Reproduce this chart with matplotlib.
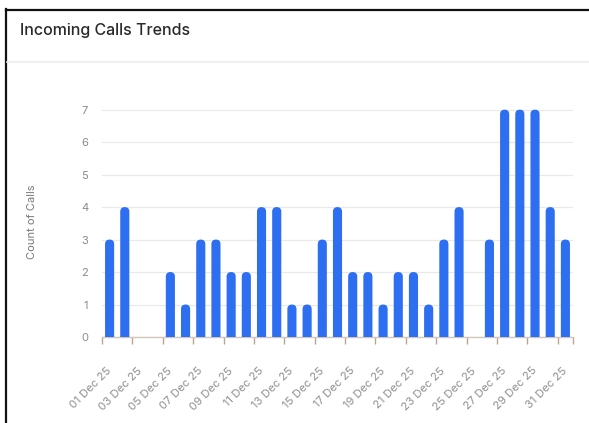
import matplotlib
matplotlib.use("Agg")
import matplotlib.pyplot as plt
from matplotlib.patches import FancyBboxPatch
from matplotlib.lines import Line2D
import numpy as np

plt.rcParams['font.family'] = ['Inter', 'DejaVu Sans']

days = [f"{d:02d} Dec 25" for d in range(1, 32)]
calls = [3, 4, 0, 0, 2, 1, 3, 3, 2, 2, 4, 4, 1, 1, 3, 4, 2, 2, 1, 2, 2, 1, 3, 4, 0, 3, 7, 7, 7, 4, 3]
yticks = [0, 1, 2, 3, 4, 5, 6, 7]
title = "Incoming Calls Trends"
ylabel = "Count of Calls"

W, H = 589, 423
fig = plt.figure(figsize=(W / 100, H / 100), dpi=100)
fig.patch.set_facecolor('white')

def fx(px):
    return px / W

def fy(py):
    return 1 - py / H

# card border (left + top) and header separator
fig.add_artist(Line2D([fx(6), fx(6)], [fy(9), 0], color='#111111', lw=1.6))
fig.add_artist(Line2D([fx(6), 1], [fy(10), fy(10)], color='#111111', lw=1.6))
fig.add_artist(Line2D([fx(7), 1], [fy(62), fy(62)], color='#eeeeee', lw=1.2))
fig.text(fx(20), fy(31), title, fontsize=11.5, color='#2a2a2a', va='center', ha='left',
         fontweight='medium')

left, right, top, bottom = 102, 573, 109, 337
ax = fig.add_axes([fx(left), fy(bottom), fx(right - left), (bottom - top) / H])
x = np.arange(len(days))
ymax = 7.02
ax.set_xlim(-0.5, len(days) - 0.5)
ax.set_ylim(0, ymax)

bars = ax.bar(x, calls, width=0.6, color='#2e6ff2')
px_x = (right - left) / len(days)
px_y = (bottom - top) / ymax
rad_x = 0.3
aspect = (rad_x * px_x / px_y) / rad_x
for b in bars:
    h = b.get_height()
    b.set_visible(False)
    if h <= 0:
        continue
    p = FancyBboxPatch((b.get_x(), -0.5), b.get_width(), h + 0.5,
                       boxstyle=f"round,pad=0,rounding_size={rad_x}",
                       mutation_aspect=aspect, facecolor='#2e6ff2', edgecolor='none',
                       clip_on=True, zorder=3)
    ax.add_patch(p)

for s in ['top', 'right', 'left']:
    ax.spines[s].set_visible(False)
ax.spines['bottom'].set_color('#d3c6b8')
ax.spines['bottom'].set_linewidth(1.0)

ax.set_yticks(yticks)
ax.yaxis.grid(True, color='#e9e9e9', lw=0.9)
ax.set_axisbelow(True)
ax.tick_params(axis='y', length=0, pad=10, labelsize=8, labelcolor='#8a8a8a')

bounds = list(np.arange(-0.5, len(days) - 0.5, 2.0)) + [len(days) - 0.5]
ax.set_xticks(bounds)
ax.set_xticklabels([])
ax.tick_params(axis='x', which='major', length=5, width=1, color='#bca58e', direction='out')
label_pos = x[::2]
ax.set_xticks(label_pos, minor=True)
ax.set_xticklabels([days[i] for i in label_pos], minor=True, rotation=45,
                   ha='right', va='center', rotation_mode='anchor')
ax.tick_params(axis='x', which='minor', length=0, pad=23, labelsize=8.2, labelcolor='#8f8f8f')

fig.text(fx(32), fy(222), ylabel, rotation=90, fontsize=8, color='#777777',
         ha='center', va='center')

fig.savefig('out.png', dpi=100)
